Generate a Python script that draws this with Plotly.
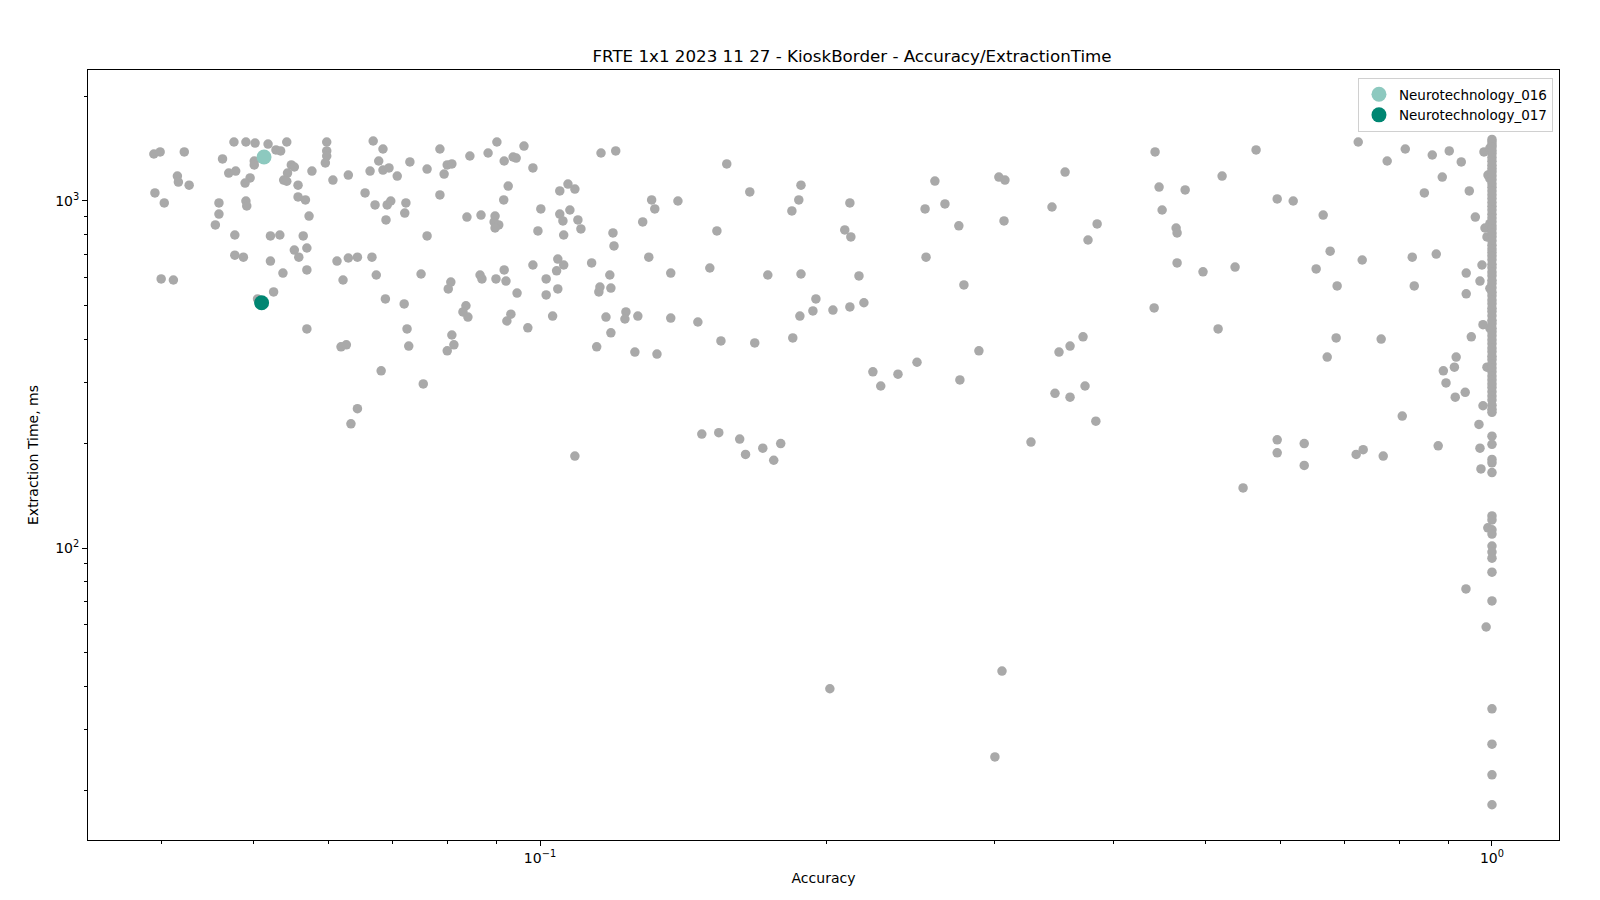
import plotly.graph_objects as go

TITLE = "FRTE 1x1 2023 11 27 - KioskBorder - Accuracy/ExtractionTime"

# other algorithms (grey points): accuracy and extraction time in ms
other_accuracy = [
    0.0393, 0.0399, 0.0423, 0.0477, 0.0491, 0.0502, 0.0518, 0.0528, 0.0534, 0.0542,
    0.0464, 0.0501, 0.0501, 0.0548, 0.0552, 0.0543, 0.0538, 0.0542, 0.0557, 0.0576,
    0.0597, 0.0597, 0.0597, 0.0595, 0.0606, 0.0629, 0.0668, 0.0684, 0.0677, 0.0663,
    0.0684, 0.0694, 0.0708, 0.0471, 0.0479, 0.0496, 0.0490, 0.0416, 0.0417, 0.0428,
    0.0394, 0.0403, 0.0460, 0.0460, 0.0456, 0.0491, 0.0492, 0.0557, 0.0567, 0.0572,
    0.0655, 0.0671, 0.0691, 0.0697, 0.0689, 0.0478, 0.0521, 0.0533, 0.0564, 0.0552,
    0.0569, 0.0558, 0.0478, 0.0488, 0.0521, 0.0569, 0.0537, 0.0612, 0.0629, 0.0643,
    0.0666, 0.0621, 0.0673, 0.0688, 0.0400, 0.0412, 0.0525, 0.0505, 0.0569, 0.0618,
    0.0626, 0.0681, 0.0643, 0.0633, 0.0730, 0.0785, 0.0761, 0.0799, 0.0808, 0.0793,
    0.0844, 0.0882, 0.0901, 0.0917, 0.0937, 0.0944, 0.0962, 0.0983, 0.1159, 0.1201,
    0.0723, 0.0721, 0.0785, 0.0926, 0.0916, 0.0838, 0.0867, 0.0897, 0.0895, 0.0905,
    0.0897, 0.1002, 0.1049, 0.1070, 0.1088, 0.1049, 0.1075, 0.1057, 0.1096, 0.1104,
    0.1059, 0.0995, 0.1193, 0.1196, 0.1310, 0.1320, 0.1282, 0.1301, 0.0761, 0.0750,
    0.0806, 0.0801, 0.0865, 0.0869, 0.0899, 0.0917, 0.0921, 0.0983, 0.0946, 0.1044,
    0.1059, 0.1041, 0.1015, 0.1015, 0.1044, 0.1133, 0.1184, 0.1156, 0.1153, 0.1187,
    0.0720, 0.0725, 0.0836, 0.0830, 0.0840, 0.0932, 0.0923, 0.0808, 0.0971, 0.1031,
    0.1173, 0.1231, 0.1228, 0.1267, 0.1187, 0.0728, 0.0799, 0.0812, 0.0754, 0.1147,
    0.1258, 0.1327, 0.1088, 0.1571, 0.1396, 0.1661, 0.1880, 0.1870, 0.1839, 0.2116,
    0.2090, 0.2121, 0.1534, 0.1372, 0.1508, 0.1735, 0.1880, 0.2163, 0.1949, 0.1935,
    0.1875, 0.2031, 0.2116, 0.2189, 0.1372, 0.1465, 0.1549, 0.1681, 0.1843, 0.2237,
    0.2280, 0.2377, 0.2489, 0.1479, 0.1541, 0.1621, 0.1644, 0.1714, 0.1790, 0.1760,
    0.2599, 0.2538, 0.2663, 0.2754, 0.2544, 0.2788, 0.3034, 0.3079, 0.3072, 0.3561,
    0.3450, 0.3848, 0.3764, 0.4427, 0.4470, 0.4503, 0.4658, 0.4669, 0.4669, 0.4417,
    0.2891, 0.2761, 0.3509, 0.3604, 0.3719, 0.3475, 0.3604, 0.3737, 0.3836, 0.3279,
    0.5652, 0.7236, 0.7761, 0.8108, 0.8655, 0.8867, 0.8491, 0.5206, 0.4761, 0.5948,
    0.6183, 0.6648, 0.6761, 0.7306, 0.8246, 0.8739, 0.6536, 0.6876, 0.8286, 0.4971,
    0.5372, 0.5156, 0.6860, 0.7649, 0.6713, 0.8890, 0.8049, 0.5948, 0.5948, 0.6350,
    0.6350, 0.7200, 0.7323, 0.7687, 0.8780, 0.5477, 0.9018, 0.9284, 0.9466, 0.9605,
    0.9808, 0.9904, 0.9832, 0.9880, 0.9761, 0.9396, 0.9714, 0.9396, 0.9785, 0.9512,
    0.9170, 0.9131, 0.8948, 0.9150, 0.9373, 0.9880, 0.9785, 0.9690, 0.9714, 0.9737,
    0.2016, 0.3057, 0.3005, 0.9390, 0.9860, 0.9900,
    0.9950, 0.9950, 0.9950, 0.9950, 0.9950,
]
other_time = [
    1366, 1385, 1385, 1479, 1479, 1469, 1459, 1403, 1394, 1479,
    1322, 1304, 1270, 1270, 1253, 1204, 1149, 1140, 1111, 1220,
    1479, 1394, 1348, 1287, 1149, 1188, 1489, 1412, 1304, 1220,
    1228, 1245, 1180, 1204, 1220, 1165, 1126, 1180, 1134, 1111,
    1055, 987, 987, 917, 853, 1000, 968, 1027, 1007, 905,
    1055, 974, 974, 1000, 882, 798, 793, 798, 793, 722,
    732, 689, 698, 689, 671, 633, 620, 671, 685, 689,
    689, 592, 612, 522, 596, 592, 547, 522, 428, 380,
    385, 324, 252, 228, 1296, 1412, 1236, 1270, 1279, 1196,
    1348, 1375, 1479, 1304, 1339, 1330, 1440, 1245, 1375, 1394,
    987, 923, 1041, 1104, 1007, 899, 911, 905, 870, 853,
    836, 949, 1069, 1119, 1082, 917, 942, 876, 882, 831,
    798, 820, 809, 742, 1007, 949, 870, 689, 793, 616,
    584, 558, 612, 596, 596, 633, 588, 654, 543, 680,
    654, 629, 596, 536, 558, 663, 612, 565, 547, 561,
    505, 428, 499, 479, 463, 472, 451, 411, 431, 466,
    463, 479, 457, 466, 417, 382, 370, 385, 297, 380,
    367, 362, 184, 1279, 1000, 1062, 1111, 1007, 936, 987,
    825, 788, 820, 620, 641, 612, 616, 608, 522, 482,
    466, 485, 495, 509, 460, 448, 395, 390, 403, 322,
    293, 317, 343, 213, 215, 206, 186, 194, 200, 179,
    1141, 949, 981, 848, 689, 573, 1172, 1149, 876, 1212,
    961, 859, 772, 1385, 1097, 942, 836, 809, 663, 492,
    370, 305, 367, 382, 406, 279, 272, 293, 232, 202,
    1403, 1479, 1304, 1412, 1357, 1172, 1055, 1180, 1076, 1014,
    1000, 911, 717, 676, 689, 703, 637, 569, 569, 625,
    645, 428, 403, 400, 355, 324, 240, 205, 188, 200,
    173, 186, 192, 184, 197, 149, 1394, 1296, 1069, 899,
    1385, 1188, 836, 788, 654, 620, 588, 540, 440, 406,
    355, 332, 299, 272, 281, 332, 257, 227, 194, 169,
    39.3, 44.2, 25.0, 76.2, 59.2, 114.3,
    1420, 1160, 860, 560, 430,
]

# other algorithms with accuracy 1.0 (dense column at the right edge)
perfect_time = [
    1505, 1480, 1452, 1431, 1398, 1370, 1335, 1302, 1268, 1240,
    1215, 1183, 1152, 1121, 1095, 1068, 1042, 1016, 990, 965,
    942, 916, 893, 871, 848, 830, 808, 789, 768, 746,
    727, 711, 694, 677, 657, 642, 624, 609, 591, 578,
    562, 546, 533, 518, 506, 491, 480, 467, 453, 443,
    430, 420, 409, 398, 388, 377, 368, 357, 349, 339,
    330, 322, 313, 305, 297, 290, 282, 274, 267, 258,
    251, 246, 210, 199, 180, 176, 165, 123.7, 120.5, 112.8,
    109.7, 101.3, 97.3, 93.5, 85.2, 70.4, 34.4, 27.2, 22.2, 18.2,
]

highlight_names = ["Neurotechnology_016", "Neurotechnology_017"]
highlight_accuracy = [0.0513, 0.0510]
highlight_time = [1339, 509]
highlight_colors = ["#8dc9bf", "#008672"]

x_minor = [0.04, 0.05, 0.06, 0.07, 0.08, 0.09, 0.2, 0.3, 0.4, 0.5, 0.6, 0.7, 0.8, 0.9]
y_minor = [20, 30, 40, 50, 60, 70, 80, 90, 200, 300, 400, 500, 600, 700, 800, 900, 2000]

fig = go.Figure()
fig.add_trace(go.Scatter(
    x=other_accuracy + [1.0] * len(perfect_time),
    y=other_time + perfect_time,
    mode="markers",
    marker=dict(color="#a9a9a9", size=9.5, line=dict(width=0)),
    showlegend=False,
    hoverinfo="x+y",
))
for name, a, t, c in zip(highlight_names, highlight_accuracy, highlight_time, highlight_colors):
    fig.add_trace(go.Scatter(
        x=[a], y=[t], mode="markers", name=name,
        marker=dict(color=c, size=15, line=dict(width=0)),
    ))

font = "DejaVu Sans, Liberation Sans, sans-serif"
axis_common = dict(
    type="log",
    showline=True, mirror=True, linecolor="black", linewidth=1,
    showgrid=False, zeroline=False,
    ticks="outside", ticklen=5, tickwidth=1, tickcolor="black",
    tickfont=dict(family=font, size=14, color="black"),
)
fig.update_layout(
    width=1600, height=900,
    margin=dict(l=88, r=41, t=70, b=60),
    paper_bgcolor="white", plot_bgcolor="white",
    font=dict(family=font, size=14, color="black"),
    title=dict(text=TITLE, x=852 / 1600, xref="container", xanchor="center",
               y=1 - 56 / 900, yanchor="middle", yref="container",
               font=dict(family=font, size=16.7, color="black")),
    xaxis=dict(
        axis_common, range=[-1.4748, 0.0704],
        tickvals=[0.1, 1], ticktext=["10<sup>\u22121</sup>", "10<sup>0</sup>"],
        minor=dict(tickvals=x_minor, ticks="outside", ticklen=3, tickwidth=1,
                   tickcolor="black", showgrid=False),
        title=dict(text="Accuracy", standoff=8, font=dict(family=font, size=14)),
    ),
    yaxis=dict(
        axis_common, range=[1.1585, 3.3775],
        tickvals=[100, 1000], ticktext=["10<sup>2</sup>", "10<sup>3</sup>"],
        minor=dict(tickvals=y_minor, ticks="outside", ticklen=3, tickwidth=1,
                   tickcolor="black", showgrid=False),
        title=dict(text="Extraction Time, ms", standoff=13, font=dict(family=font, size=14)),
    ),
    legend=dict(
        x=0.9959, xanchor="right", y=0.9896, yanchor="top",
        bgcolor="rgba(255,255,255,0.8)", bordercolor="#d0d0d0", borderwidth=1,
        font=dict(family=font, size=13.5, color="black"),
    ),
    showlegend=True,
)

fig.write_html("out.html", config={"displayModeBar": False},
               post_script="document.body.style.margin='0';")
